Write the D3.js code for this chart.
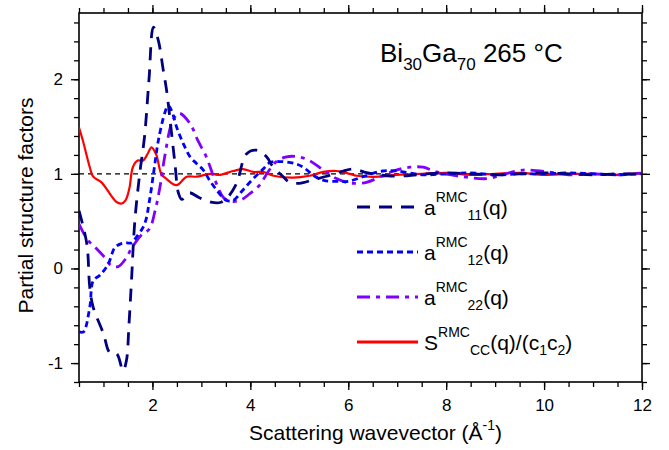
<!DOCTYPE html>
<html>
<head>
<meta charset="utf-8">
<script src="https://cdn.jsdelivr.net/npm/d3@7"></script>
<style>
  body { margin: 0; background: #fff; }
  svg { font-family: "Liberation Sans", Arial, sans-serif; }
  .tick text { font-size: 17px; fill: #000; }
</style>
</head>
<body>
<svg id="chart" width="669" height="450"></svg>
<script>
// values, [q, S(q)]
const a11 = [[0.5,0.61],[0.66,0.26],[0.72,-0.2],[0.79,-0.41],[1.0,-0.69],[1.13,-0.89],[1.27,-0.9],[1.4,-1.08],[1.47,-0.97],[1.52,-0.6],[1.57,-0.15],[1.64,0.5],[1.74,1.0],[1.84,1.4],[1.93,2.0],[2.02,2.55],[2.12,2.41],[2.22,2.1],[2.29,1.88],[2.39,1.43],[2.46,1.11],[2.53,0.8],[2.6,0.73],[2.75,0.8],[2.95,0.75],[3.2,0.7],[3.4,0.7],[3.55,0.76],[3.72,0.9],[3.92,1.21],[4.13,1.25],[4.33,1.18],[4.47,1.07],[4.67,0.97],[4.8,0.91],[5.0,0.9],[5.3,0.94],[5.6,0.98],[5.9,1.03],[6.1,1.05],[6.4,1.01],[6.8,0.98],[7.2,0.98],[7.6,1.0],[8.0,1.01],[8.5,1.0],[9.0,0.99],[9.5,1.0],[10.0,1.01],[10.5,1.0],[11.0,0.99],[11.5,1.0],[12.0,1.0]];
const a12 = [[0.5,-0.67],[0.59,-0.67],[0.72,-0.41],[0.79,-0.13],[0.93,-0.07],[1.1,0.05],[1.23,0.22],[1.35,0.26],[1.47,0.27],[1.57,0.27],[1.67,0.33],[1.84,0.47],[1.94,0.72],[2.04,1.07],[2.12,1.35],[2.25,1.64],[2.32,1.72],[2.39,1.67],[2.49,1.5],[2.63,1.32],[2.77,1.18],[2.9,1.11],[3.04,1.04],[3.17,0.93],[3.34,0.81],[3.51,0.72],[3.65,0.72],[3.85,0.83],[4.06,0.95],[4.26,1.05],[4.4,1.12],[4.6,1.13],[4.9,1.11],[5.08,1.07],[5.3,0.98],[5.5,0.93],[5.8,0.92],[6.0,0.92],[6.3,0.97],[6.7,1.03],[7.0,1.03],[7.5,0.99],[8.0,1.0],[8.5,1.01],[9.0,0.99],[9.5,1.0],[10.0,1.0],[10.5,1.01],[11.0,1.0],[11.5,0.99],[12.0,1.0]];
const a22 = [[0.5,0.47],[0.68,0.3],[0.82,0.23],[1.02,0.12],[1.16,0.03],[1.3,0.02],[1.45,0.1],[1.57,0.21],[1.77,0.35],[1.94,0.42],[2.05,0.6],[2.15,0.85],[2.25,1.18],[2.39,1.53],[2.5,1.63],[2.56,1.64],[2.77,1.53],[2.93,1.35],[3.1,1.18],[3.28,0.93],[3.45,0.75],[3.6,0.71],[3.79,0.72],[3.99,0.79],[4.19,0.88],[4.36,1.02],[4.53,1.13],[4.74,1.18],[4.98,1.18],[5.21,1.14],[5.49,1.04],[5.76,0.95],[5.96,0.91],[6.1,0.9],[6.37,0.91],[6.7,0.98],[6.98,1.04],[7.26,1.07],[7.53,1.07],[7.8,1.02],[8.34,0.97],[8.85,0.95],[9.2,1.0],[9.57,1.04],[10.1,1.02],[10.5,0.99],[11.0,1.0],[11.5,0.99],[12.0,1.01]];
const scc = [[0.5,1.49],[0.58,1.35],[0.72,1.07],[0.79,0.97],[0.96,0.91],[1.13,0.79],[1.25,0.71],[1.36,0.685],[1.45,0.72],[1.53,0.85],[1.6,1.07],[1.7,1.14],[1.81,1.14],[1.91,1.22],[1.98,1.28],[2.08,1.2],[2.18,1.0],[2.28,0.95],[2.49,0.88],[2.7,0.97],[2.9,0.97],[3.17,1.0],[3.38,0.99],[3.65,1.03],[3.85,1.05],[4.06,1.02],[4.26,1.02],[4.47,0.98],[4.87,0.96],[5.21,0.98],[5.49,1.02],[5.76,1.03],[6.03,1.0],[6.17,0.98],[6.64,0.97],[7.0,0.99],[7.5,1.0],[8.0,1.01],[8.5,0.99],[9.0,1.0],[9.5,1.01],[10.0,0.99],[10.5,1.0],[11.0,1.0],[11.5,0.99],[12.0,1.01]];

const xTicks = [2, 4, 6, 8, 10, 12];
const yTicks = [-1, 0, 1, 2];

const margin = {top: 13, right: 27, bottom: 68, left: 79},
    width = 669 - margin.left - margin.right,
    height = 450 - margin.top - margin.bottom;

const svg = d3.select('#chart');
const g = svg.append('g').attr('transform', `translate(${margin.left},${margin.top})`);

const x = d3.scaleLinear().domain([0.5, 12]).range([0, width]);
const y = d3.scaleLinear().domain([-1.2, 2.7]).range([height, 0]);

const xMinor = d3.range(0.5, 12.01, 0.5);
const yMinor = d3.range(-1.2, 2.61, 0.2).map(v => +v.toFixed(1));

function styleAxis(sel) {
    sel.select('.domain').remove();
    sel.selectAll('line').attr('stroke', '#000').attr('stroke-width', 1.3);
}

// minor ticks
g.append('g').attr('transform', `translate(0,${height})`)
    .call(d3.axisBottom(x).tickValues(xMinor).tickSize(5).tickFormat(''))
    .call(styleAxis);
g.append('g')
    .call(d3.axisTop(x).tickValues(xMinor).tickSize(5).tickFormat(''))
    .call(styleAxis);
g.append('g')
    .call(d3.axisLeft(y).tickValues(yMinor).tickSize(5).tickFormat(''))
    .call(styleAxis);
g.append('g').attr('transform', `translate(${width},0)`)
    .call(d3.axisRight(y).tickValues(yMinor).tickSize(5).tickFormat(''))
    .call(styleAxis);

// major ticks
g.append('g').attr('transform', `translate(0,${height})`)
    .call(d3.axisBottom(x).tickValues(xTicks).tickSize(8).tickPadding(9).tickFormat(d3.format('d')))
    .call(styleAxis);
g.append('g')
    .call(d3.axisTop(x).tickValues(xTicks).tickSize(8).tickFormat(''))
    .call(styleAxis);
g.append('g')
    .call(d3.axisLeft(y).tickValues(yTicks).tickSize(8).tickPadding(8).tickFormat(d => d < 0 ? '-' + Math.abs(d) : d))
    .call(styleAxis);
g.append('g').attr('transform', `translate(${width},0)`)
    .call(d3.axisRight(y).tickValues(yTicks).tickSize(8).tickFormat(''))
    .call(styleAxis);

g.selectAll('.tick text').attr('font-family', '"Liberation Sans", Arial, sans-serif').attr('font-size', 17);

// frame
g.append('rect')
    .attr('width', width).attr('height', height)
    .attr('fill', 'none').attr('stroke', '#000').attr('stroke-width', 1.6);

g.append('clipPath').attr('id', 'clip')
    .append('rect').attr('width', width).attr('height', height);

const plot = g.append('g').attr('clip-path', 'url(#clip)');

// reference line at 1
plot.append('line')
    .attr('x1', 0).attr('x2', width)
    .attr('y1', y(1)).attr('y2', y(1))
    .attr('stroke', '#000').attr('stroke-width', 1.2)
    .attr('stroke-dasharray', '5,4');

const line = d3.line()
    .x(d => x(d[0]))
    .y(d => y(d[1]))
    .curve(d3.curveCatmullRom.alpha(0.5));

const series = [
    {data: scc, color: '#ff0000', dash: null, w: 2.2},
    {data: a22, color: '#8000ff', dash: '13,6,4,6', w: 2.8},
    {data: a12, color: '#0000ff', dash: '6,4', w: 2.8},
    {data: a11, color: '#000080', dash: '13,9', w: 2.8}
];

series.forEach(s => {
    plot.append('path')
        .datum(s.data)
        .attr('fill', 'none')
        .attr('stroke', s.color)
        .attr('stroke-width', s.w)
        .attr('stroke-dasharray', s.dash)
        .attr('d', line);
});

// title
const title = svg.append('text')
    .attr('x', 380).attr('y', 62)
    .attr('font-size', 26).attr('fill', '#000');
title.append('tspan').text('Bi');
title.append('tspan').attr('font-size', 17).attr('dy', 8).text('30');
title.append('tspan').attr('dy', -8).text('Ga');
title.append('tspan').attr('font-size', 17).attr('dy', 8).text('70');
title.append('tspan').attr('dy', -8).text(' 265 °C');

// legend
const legendRows = [
    {color: '#000080', dash: '13,9', main: 'a', sub: '11', tail: '(q)'},
    {color: '#0000ff', dash: '6,4', main: 'a', sub: '12', tail: '(q)'},
    {color: '#8000ff', dash: '13,6,4,6', main: 'a', sub: '22', tail: '(q)'},
    {color: '#ff0000', dash: null, main: 'S', sub: 'CC', tail: '(q)/(c'}
];
const legend = svg.append('g');
legendRows.forEach((r, i) => {
    const ly = 207 + i * 45;
    legend.append('line')
        .attr('x1', 357).attr('x2', 418)
        .attr('y1', ly).attr('y2', ly)
        .attr('stroke', r.color).attr('stroke-width', 2.8)
        .attr('stroke-dasharray', r.dash);
    const t = legend.append('text')
        .attr('x', 424).attr('y', ly + 8)
        .attr('font-size', 21).attr('fill', '#000');
    t.append('tspan').text(r.main);
    t.append('tspan').attr('font-size', 14).attr('dy', -13).text('RMC');
    t.append('tspan').attr('font-size', 14).attr('dy', 18).text(r.sub);
    t.append('tspan').attr('dy', -5).text(r.tail);
    if (i === 3) {
        t.append('tspan').attr('font-size', 14).attr('dy', 5).text('1');
        t.append('tspan').attr('dy', -5).text('c');
        t.append('tspan').attr('font-size', 14).attr('dy', 5).text('2');
        t.append('tspan').attr('dy', -5).text(')');
    }
});

// axis titles
svg.append('text')
    .attr('x', margin.left + width / 2 + 15).attr('y', 440)
    .attr('text-anchor', 'middle').attr('font-size', 21)
    .html('Scattering wavevector (Å<tspan font-size="14" dy="-10">-1</tspan><tspan dy="10">)</tspan>');

svg.append('text')
    .attr('transform', `translate(33,${margin.top + height / 2 + 8}) rotate(-90)`)
    .attr('text-anchor', 'middle').attr('font-size', 21)
    .text('Partial structure factors');
</script>
</body>
</html>
